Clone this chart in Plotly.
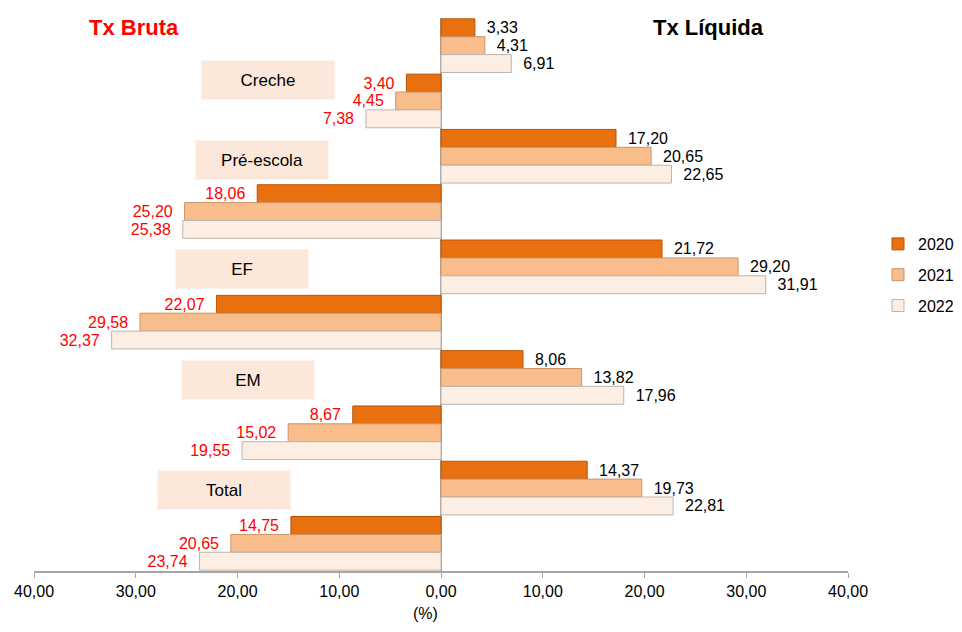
import plotly.graph_objects as go

levels = ["Creche", "Pré-escola", "EF", "EM", "Total"]
years = ["2020", "2021", "2022"]
liquida = {
    "2020": [3.33, 17.20, 21.72, 8.06, 14.37],
    "2021": [4.31, 20.65, 29.20, 13.82, 19.73],
    "2022": [6.91, 22.65, 31.91, 17.96, 22.81],
}
bruta = {
    "2020": [3.40, 18.06, 22.07, 8.67, 14.75],
    "2021": [4.45, 25.20, 29.58, 15.02, 20.65],
    "2022": [7.38, 25.38, 32.37, 19.55, 23.74],
}
tick_vals = [-40, -30, -20, -10, 0, 10, 20, 30, 40]
tick_text = ["40,00", "30,00", "20,00", "10,00", "0,00", "10,00", "20,00", "30,00", "40,00"]
colors = {"2020": "#E8700F", "2021": "#F8BD8A", "2022": "#FDEEE3"}
edge = {"2020": "#B85508", "2021": "#C9946A", "2022": "#BDB5AE"}

cats = []
for lv in levels:
    cats += [lv + " Líq", lv + " Bruta"]

NB = "\u00a0\u00a0"
FONT = "Liberation Sans, Arial"

def fmt(v):
    return f"{v:.2f}".replace(".", ",")

fig = go.Figure()
for yr in years:
    xs, txt, tcol = [], [], []
    for i, lv in enumerate(levels):
        xs += [liquida[yr][i], -bruta[yr][i]]
        txt += [NB + fmt(liquida[yr][i]), fmt(bruta[yr][i]) + NB]
        tcol += ["black", "red"]
    fig.add_trace(go.Bar(
        y=cats, x=xs, orientation="h", name=yr, legendgroup=yr,
        marker=dict(color=colors[yr], line=dict(color=edge[yr], width=1)),
        text=txt, textposition="outside", constraintext="none",
        textfont=dict(color=tcol, size=16, family=FONT),
        cliponaxis=False,
    ))

box_pos = [(-17.0, 0.62), (-17.6, 2.06), (-19.6, 4.04), (-19.0, 6.04), (-21.3, 8.04)]
for lv, (bx, by) in zip(levels, box_pos):
    fig.add_annotation(x=bx, y=by, xref="x", yref="y", text=lv, showarrow=False,
                       width=130, height=36, bgcolor="#FCE8DA",
                       font=dict(size=17, color="black", family=FONT))

OX, OY = 8, 8
W, H = 946, 616
ml, mt = 34 - OX, 18 - OY
mr = W - (848 - OX)
mb = H - (571 - OY)

def px(xp, yp):
    return ((xp - OX - ml) / (W - ml - mr), 1 - (yp - OY - mt) / (H - mt - mb))

for text, xp, yp, col, sz in [("<b>Tx Bruta</b>", 134, 28, "red", 22),
                               ("<b>Tx Líquida</b>", 708, 28, "black", 22),
                               ("(%)", 425, 613, "black", 16)]:
    xx, yy = px(xp, yp)
    fig.add_annotation(x=xx, y=yy, xref="paper", yref="paper", text=text, showarrow=False,
                       xanchor="center", yanchor="middle",
                       font=dict(size=sz, color=col, family=FONT))

lx, ly = px(878, 275)
fig.update_layout(
    width=W, height=H, barmode="group", bargap=0.03, bargroupgap=0,
    plot_bgcolor="white", paper_bgcolor="white",
    margin=dict(l=ml, r=mr, t=mt, b=mb, autoexpand=False),
    font=dict(family=FONT, size=16, color="black"),
    legend=dict(x=lx, y=ly, xanchor="left", yanchor="middle", traceorder="grouped",
                font=dict(size=16), itemwidth=30, tracegroupgap=7),
    xaxis=dict(range=[-40, 40], tickvals=tick_vals, ticktext=tick_text, showgrid=False,
               zeroline=True, zerolinecolor="#A6A6A6", zerolinewidth=2,
               showline=True, linecolor="#A6A6A6", linewidth=2, ticks="outside",
               tickcolor="#A6A6A6", ticklen=5, tickfont=dict(size=16), automargin=False),
    yaxis=dict(categoryorder="array", categoryarray=cats, autorange="reversed",
               showticklabels=False, showgrid=False, zeroline=False, showline=False,
               automargin=False),
    showlegend=True,
)
fig.write_html("out.html")
